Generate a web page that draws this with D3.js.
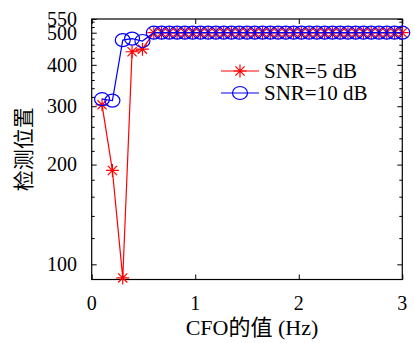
<!DOCTYPE html>
<html><head><meta charset="utf-8">
<script src="https://cdn.jsdelivr.net/npm/d3@7"></script>
<style>body{margin:0;background:#fff}svg{display:block}
.sf{font-family:"Liberation Serif","Noto Sans CJK SC",serif}</style>
</head><body>
<svg id="c" width="414" height="343"></svg>
<script>
const xValues = [0.1, 0.2, 0.3, 0.39, 0.49,
  0.6, 0.675, 0.75, 0.825, 0.9, 0.975, 1.05, 1.125, 1.2, 1.275, 1.35, 1.425, 1.5,
  1.575, 1.65, 1.725, 1.8, 1.875, 1.95, 2.025, 2.1, 2.175, 2.25, 2.325, 2.4, 2.475,
  2.55, 2.625, 2.7, 2.775, 2.85, 2.925, 3.0];
const snr5 = [303, 192, 91, 438, 446,
  500, 500, 500, 500, 500, 500, 500, 500, 500, 500, 500, 500, 500,
  500, 500, 500, 500, 500, 500, 500, 500, 500, 500, 500, 500, 500,
  500, 500, 500, 500, 500, 500, 500];
const snr10 = [315, 312, 475, 480, 472,
  500, 500, 500, 500, 500, 500, 500, 500, 500, 500, 500, 500, 500,
  500, 500, 500, 500, 500, 500, 500, 500, 500, 500, 500, 500, 500,
  500, 500, 500, 500, 500, 500, 500];
const seriesNames = ["SNR=5 dB", "SNR=10 dB"];
const seriesColors = ["#ff0000", "#0000ff"];
const xTicks = [0, 1, 2, 3];
const yTicks = [100, 200, 300, 400, 500, 550];
const yMinorTicks = [120, 140, 160, 180, 220, 240, 260, 280, 320, 340, 360, 380, 420, 440, 460, 480, 520, 540];
const xLabel = "CFO的值 (Hz)";
const yLabel = "检测位置";

const svg = d3.select("#c");
const L = 91.7, R = 402.3, T = 19, B = 279.5;
const x = d3.scaleLinear().domain([0, 3]).range([L, R]);
const y = d3.scaleLog().domain([90, 550]).range([B, T]);

// axes (ticks inward, mirrored)
const g = svg.append("g");
const mk = (axisFn, scale, vals, len, tx, ty) => {
  g.append("g").attr("transform", `translate(${tx},${ty})`)
    .call(axisFn(scale).tickValues(vals).tickSize(len).tickFormat(""))
    .call(s => s.select(".domain").remove())
    .call(s => s.selectAll("line").attr("stroke", "#000").attr("stroke-width", 1));
};
mk(d3.axisTop, x, xTicks, 5, 0, B);
mk(d3.axisBottom, x, xTicks, 5, 0, T);
mk(d3.axisRight, y, yTicks, 5, L, 0);
mk(d3.axisLeft, y, yTicks, 5, R, 0);
mk(d3.axisRight, y, yMinorTicks, 3, L, 0);
mk(d3.axisLeft, y, yMinorTicks, 3, R, 0);

svg.append("rect").attr("x", L).attr("y", T).attr("width", R - L).attr("height", B - T)
  .attr("fill", "none").attr("stroke", "#000").attr("stroke-width", 1.2);

// tick labels
svg.append("g").selectAll("text").data(xTicks).join("text").attr("class", "sf")
  .attr("x", d => x(d)).attr("y", 310).attr("text-anchor", "middle")
  .attr("font-size", 20).text(d => d);
svg.append("g").selectAll("text").data(yTicks).join("text").attr("class", "sf")
  .attr("x", 77).attr("y", d => y(d)).attr("dy", "0.34em").attr("text-anchor", "end")
  .attr("font-size", 20).text(d => d);

// axis titles
svg.append("text").attr("class", "sf").attr("x", 252).attr("y", 335).attr("text-anchor", "middle")
  .attr("font-size", 22).text(xLabel);
svg.append("text").attr("class", "sf").attr("transform", `translate(31,${(T + B) / 2}) rotate(-90)`)
  .attr("text-anchor", "middle").attr("font-size", 21).text(yLabel);

// markers
function star(sel, cx, cy, color) {
  const r = 6.5, d = r * Math.SQRT1_2;
  sel.append("path").attr("d",
    `M${cx - r},${cy}L${cx + r},${cy}M${cx},${cy - r}L${cx},${cy + r}` +
    `M${cx - d},${cy - d}L${cx + d},${cy + d}M${cx - d},${cy + d}L${cx + d},${cy - d}`)
    .attr("stroke", color).attr("stroke-width", 1.2).attr("fill", "none");
}
function circ(sel, cx, cy, color) {
  sel.append("ellipse").attr("cx", cx).attr("cy", cy).attr("rx", 7.5).attr("ry", 6.5)
    .attr("stroke", color).attr("stroke-width", 1.2).attr("fill", "none");
}
const markers = [star, circ];
const series = [snr5, snr10];
const line = d3.line().x(d => x(d[0])).y(d => y(d[1]));

series.forEach((vals, i) => {
  const pts = xValues.map((xv, j) => [xv, vals[j]]);
  const sg = svg.append("g");
  sg.append("path").attr("d", line(pts)).attr("fill", "none")
    .attr("stroke", seriesColors[i]).attr("stroke-width", 1.2);
  pts.forEach(p => markers[i](sg, x(p[0]), y(p[1]), seriesColors[i]));
});

// legend
seriesNames.forEach((name, i) => {
  const ly = 71 + i * 22;
  const lg = svg.append("g");
  lg.append("line").attr("x1", 221).attr("x2", 259).attr("y1", ly).attr("y2", ly)
    .attr("stroke", seriesColors[i]).attr("stroke-width", 1.2);
  markers[i](lg, 240, ly, seriesColors[i]);
  lg.append("text").attr("class", "sf").attr("x", 264).attr("y", ly).attr("dy", "0.34em")
    .attr("font-size", 21).text(name);
});
</script>
</body></html>
